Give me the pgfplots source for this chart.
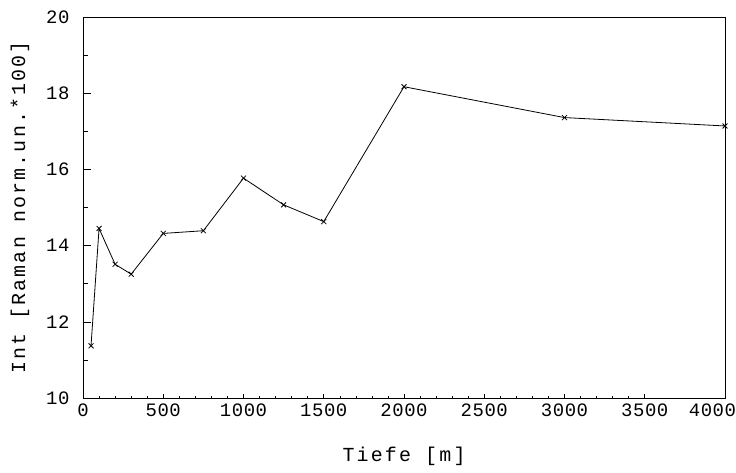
\documentclass[border=0pt]{standalone}
\usepackage{fontspec}
\setmainfont{Liberation Mono}
\usepackage{pgfplots}
\pgfplotsset{compat=1.18}
\newfontfamily\tickfont[LetterSpace=3]{Liberation Mono}
\newfontfamily\labfont[LetterSpace=11]{Liberation Mono}
\begin{document}
\begin{tikzpicture}
\begin{axis}[
    scale only axis,
    width=642bp, height=381bp,
    xmin=0, xmax=4000,
    ymin=10, ymax=20,
    xtick={0,500,...,3500},
    extra x ticks={4000},
    extra x tick labels={\hbox to 0pt{\hss 4000\kern-11bp}},
    ytick={10,12,...,20},
    minor x tick num=4,
    minor y tick num=1,
    tick pos=left,
    tick align=inside,
    major tick length=8bp,
    minor tick length=5bp,
    xtick style={/pgfplots/major tick length=4bp, /pgfplots/minor tick length=2.5bp},
    axis line style={line width=0.8bp},
    every tick/.style={black, line width=0.6bp},
    /pgf/number format/assume math mode=true,
    /pgf/number format/1000 sep={},
    ticklabel style={font=\tickfont\fontsize{19}{21}\selectfont},
    xticklabel style={yshift=-2bp},
    yticklabel style={xshift=-10bp},
    xlabel={Tiefe [m]},
    ylabel={Int [Raman norm.un.*100]},
    label style={font=\labfont\fontsize{20}{22}\selectfont},
    xlabel style={yshift=-24bp},
    ylabel style={yshift=10bp},
]
\coordinate (sw) at (rel axis cs:0,0);
\coordinate (ne) at (rel axis cs:1,1);
\addplot[black, line width=0.8bp, mark=x, mark size=3.5bp] coordinates {
    (50,11.37) (100,14.45) (200,13.51) (300,13.25) (500,14.32)
    (750,14.39) (1000,15.77) (1250,15.07) (1500,14.63)
    (2000,18.17) (3000,17.36) (4000,17.14)
};
\end{axis}
\pgfresetboundingbox
\path[use as bounding box] ([shift={(-83bp,-75bp)}]sw) rectangle ([shift={(11bp,17bp)}]ne);
\end{tikzpicture}
\end{document}
